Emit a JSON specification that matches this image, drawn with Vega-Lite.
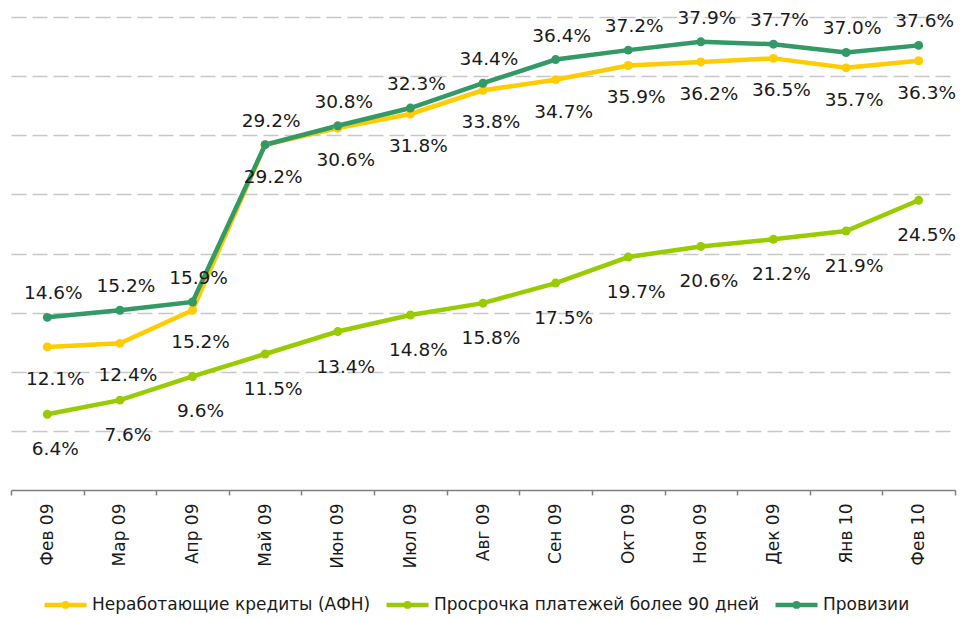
{
  "$schema": "https://vega.github.io/schema/vega-lite/v6.json",
  "width": 944,
  "height": 473,
  "autosize": {"type": "none"},
  "padding": {"left": 11, "top": 17, "right": 12, "bottom": 127},
  "config": {"view": {"stroke": null}, "font": "DejaVu Sans"},
  "data": {
    "values": [
      {"month": "Фев 09", "series": "Неработающие кредиты (АФН)", "value": 0.121},
      {"month": "Мар 09", "series": "Неработающие кредиты (АФН)", "value": 0.124},
      {"month": "Апр 09", "series": "Неработающие кредиты (АФН)", "value": 0.152},
      {"month": "Май 09", "series": "Неработающие кредиты (АФН)", "value": 0.292},
      {"month": "Июн 09", "series": "Неработающие кредиты (АФН)", "value": 0.306},
      {"month": "Июл 09", "series": "Неработающие кредиты (АФН)", "value": 0.318},
      {"month": "Авг 09", "series": "Неработающие кредиты (АФН)", "value": 0.338},
      {"month": "Сен 09", "series": "Неработающие кредиты (АФН)", "value": 0.347},
      {"month": "Окт 09", "series": "Неработающие кредиты (АФН)", "value": 0.359},
      {"month": "Ноя 09", "series": "Неработающие кредиты (АФН)", "value": 0.362},
      {"month": "Дек 09", "series": "Неработающие кредиты (АФН)", "value": 0.365},
      {"month": "Янв 10", "series": "Неработающие кредиты (АФН)", "value": 0.357},
      {"month": "Фев 10", "series": "Неработающие кредиты (АФН)", "value": 0.363},
      {"month": "Фев 09", "series": "Просрочка платежей более 90 дней", "value": 0.064},
      {"month": "Мар 09", "series": "Просрочка платежей более 90 дней", "value": 0.076},
      {"month": "Апр 09", "series": "Просрочка платежей более 90 дней", "value": 0.096},
      {"month": "Май 09", "series": "Просрочка платежей более 90 дней", "value": 0.115},
      {"month": "Июн 09", "series": "Просрочка платежей более 90 дней", "value": 0.134},
      {"month": "Июл 09", "series": "Просрочка платежей более 90 дней", "value": 0.148},
      {"month": "Авг 09", "series": "Просрочка платежей более 90 дней", "value": 0.158},
      {"month": "Сен 09", "series": "Просрочка платежей более 90 дней", "value": 0.175},
      {"month": "Окт 09", "series": "Просрочка платежей более 90 дней", "value": 0.197},
      {"month": "Ноя 09", "series": "Просрочка платежей более 90 дней", "value": 0.206},
      {"month": "Дек 09", "series": "Просрочка платежей более 90 дней", "value": 0.212},
      {"month": "Янв 10", "series": "Просрочка платежей более 90 дней", "value": 0.219},
      {"month": "Фев 10", "series": "Просрочка платежей более 90 дней", "value": 0.245},
      {"month": "Фев 09", "series": "Провизии", "value": 0.146},
      {"month": "Мар 09", "series": "Провизии", "value": 0.152},
      {"month": "Апр 09", "series": "Провизии", "value": 0.159},
      {"month": "Май 09", "series": "Провизии", "value": 0.292},
      {"month": "Июн 09", "series": "Провизии", "value": 0.308},
      {"month": "Июл 09", "series": "Провизии", "value": 0.323},
      {"month": "Авг 09", "series": "Провизии", "value": 0.344},
      {"month": "Сен 09", "series": "Провизии", "value": 0.364},
      {"month": "Окт 09", "series": "Провизии", "value": 0.372},
      {"month": "Ноя 09", "series": "Провизии", "value": 0.379},
      {"month": "Дек 09", "series": "Провизии", "value": 0.377},
      {"month": "Янв 10", "series": "Провизии", "value": 0.370},
      {"month": "Фев 10", "series": "Провизии", "value": 0.376}
    ]
  },
  "encoding": {
    "x": {
      "field": "month",
      "type": "ordinal",
      "sort": ["Фев 09", "Мар 09", "Апр 09", "Май 09", "Июн 09", "Июл 09", "Авг 09", "Сен 09", "Окт 09", "Ноя 09", "Дек 09", "Янв 10", "Фев 10"],
      "bandPosition": 0.5,
      "scale": {"type": "band", "paddingInner": 0, "paddingOuter": 0},
      "axis": {
        "title": null,
        "labelAngle": -90,
        "labelFontSize": 17,
        "labelColor": "#1a1a1a",
        "tickBand": "extent",
        "domainColor": "#808080",
        "tickColor": "#808080",
        "domainWidth": 1.5,
        "tickWidth": 1.5,
        "tickSize": 5,
        "labelPadding": 8,
        "grid": false
      }
    },
    "y": {
      "field": "value",
      "type": "quantitative",
      "scale": {"domain": [0, 0.4], "nice": false},
      "axis": {
        "title": null,
        "labels": false,
        "ticks": false,
        "domain": false,
        "grid": true,
        "values": [0.05, 0.1, 0.15, 0.2, 0.25, 0.3, 0.35, 0.4],
        "gridColor": "#c8c8c8",
        "gridDash": [15, 6],
        "gridWidth": 1.5
      }
    }
  },
  "layer": [
    {
      "mark": {"type": "line", "strokeWidth": 4.5},
      "encoding": {
        "color": {
          "field": "series",
          "type": "nominal",
          "scale": {
            "domain": ["Неработающие кредиты (АФН)", "Просрочка платежей более 90 дней", "Провизии"],
            "range": ["#FFCC00", "#99CC00", "#339966"]
          },
          "legend": {
            "orient": "none",
            "legendX": 31,
            "legendY": 564,
            "direction": "horizontal",
            "title": null,
            "symbolType": "M-1,0H1M-0.08,0a0.08,0.08 0 1,0 0.16,0a0.08,0.08 0 1,0 -0.16,0",
            "symbolSize": 1764,
            "symbolStrokeWidth": 4.5,
            "symbolOpacity": 1,
            "labelFontSize": 17,
            "labelColor": "#1a1a1a",
            "labelLimit": 500,
            "labelOffset": 3,
            "columnPadding": 6,
            "encode": {"symbols": {"update": {"fill": {"scale": "color", "field": "value"}}}}
          }
        }
      }
    },
    {
      "mark": {"type": "point", "filled": true, "size": 80, "opacity": 1},
      "encoding": {"color": {"field": "series", "type": "nominal"}}
    },
    {
      "transform": [{"filter": "datum.series === 'Провизии'"}],
      "mark": {"type": "text", "dy": -24, "dx": 6, "fontSize": 18.5, "color": "#1a1a1a"},
      "encoding": {"text": {"field": "value", "format": ".1%"}}
    },
    {
      "transform": [{"filter": "datum.series === 'Неработающие кредиты (АФН)'"}],
      "mark": {"type": "text", "dy": 32, "dx": 8, "fontSize": 18.5, "color": "#1a1a1a"},
      "encoding": {"text": {"field": "value", "format": ".1%"}}
    },
    {
      "transform": [{"filter": "datum.series === 'Просрочка платежей более 90 дней'"}],
      "mark": {"type": "text", "dy": 35, "dx": 8, "fontSize": 18.5, "color": "#1a1a1a"},
      "encoding": {"text": {"field": "value", "format": ".1%"}}
    }
  ]
}
